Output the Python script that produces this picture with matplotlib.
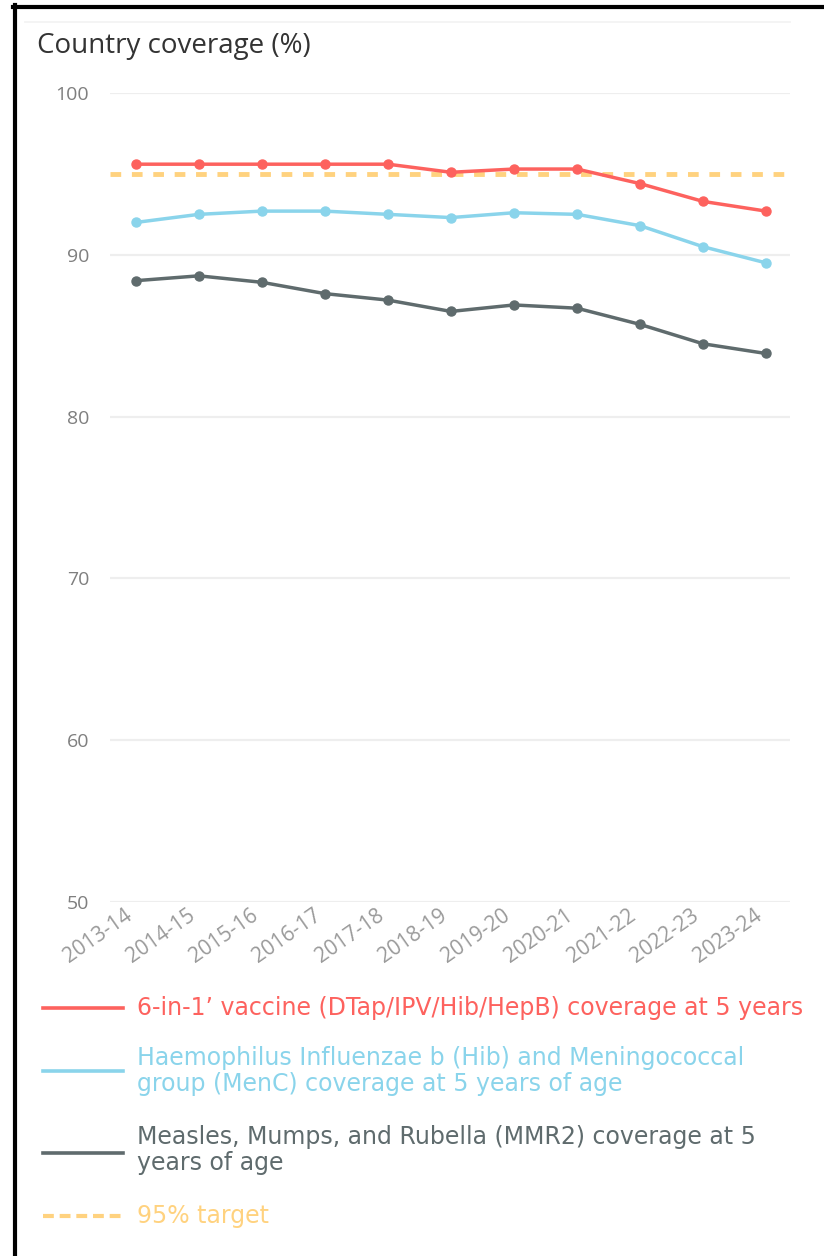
import numpy as np
import matplotlib
matplotlib.use('Agg')
import matplotlib.pyplot as plt
from matplotlib.lines import Line2D

years = ['2013-14', '2014-15', '2015-16', '2016-17', '2017-18', '2018-19',
         '2019-20', '2020-21', '2021-22', '2022-23', '2023-24']
six_in_one = [95.6, 95.6, 95.6, 95.6, 95.6, 95.1, 95.3, 95.3, 94.4, 93.3, 92.7]
hib_menc = [92.0, 92.5, 92.7, 92.7, 92.5, 92.3, 92.6, 92.5, 91.8, 90.5, 89.5]
mmr2 = [88.4, 88.7, 88.3, 87.6, 87.2, 86.5, 86.9, 86.7, 85.7, 84.5, 83.9]
target = 95
yticks = [50, 60, 70, 80, 90, 100]

labels = ["6-in-1’ vaccine (DTap/IPV/Hib/HepB) coverage at 5 years",
          "Haemophilus Influenzae b (Hib) and Meningococcal\ngroup (MenC) coverage at 5 years of age",
          "Measles, Mumps, and Rubella (MMR2) coverage at 5\nyears of age",
          "95% target"]

RED = '#FD625E'
BLUE = '#8AD4EB'
GREY = '#5F6B6D'
GOLD = '#FFD27F'

W, H = 824, 1256
fig = plt.figure(figsize=(W/100, H/100), dpi=100)
ax = fig.add_axes([110/W, 1-902/H, 680/W, (902-93)/H])

x = np.arange(len(years))
for vals, col in [(mmr2, GREY), (hib_menc, BLUE), (six_in_one, RED)]:
    ax.plot(x, vals, color=col, lw=2.5, marker='o', ms=6.5, zorder=3)
ax.axhline(target, color=GOLD, lw=3.5, ls=(0, (2.2, 2.2)), zorder=2)

ax.set_ylim(50, 100)
ax.set_xlim(-0.41, 10.38)
ax.set_yticks(yticks)
ax.set_yticklabels([str(t) for t in yticks], fontsize=14, color='#7f7f7f',
                   family='Open Sans')
ax.set_xticks(x)
ax.set_xticklabels(years, rotation=35, ha='right', va='top',
                   fontsize=15, color='#9a9a9a', family='Open Sans')
ax.tick_params(length=0)
ax.tick_params(axis='y', pad=15)
ax.tick_params(axis='x', pad=2)
ax.grid(axis='y', color='#eeeeee', lw=1.6)
ax.set_axisbelow(True)
for s in ax.spines.values():
    s.set_visible(False)

fig.text(37/W, 1-46/H, 'Country coverage (%)', fontsize=20, color='#333333',
         family='Open Sans', va='center')

# legend
leg_rows = [(1008, 1008, RED, '-'), (1071, 1071, BLUE, '-'),
            (1153, 1150, GREY, '-'), (1216, 1216, GOLD, '--')]
for (ly, ty, col, ls), lab in zip(leg_rows, labels):
    if ls == '-':
        fig.add_artist(Line2D([43/W, 123/W], [1-ly/H, 1-ly/H], color=col, lw=2.6,
                              transform=fig.transFigure))
    else:
        fig.add_artist(Line2D([43/W, 123/W], [1-ly/H, 1-ly/H], color=col, lw=3,
                              ls=(0, (2.6, 1.4)), transform=fig.transFigure))
    fig.text(137/W, 1-ty/H, lab, fontsize=17, color=col, family='DejaVu Sans',
             va='center', linespacing=1.1)

# frame
fig.add_artist(Line2D([13/W, 1], [1-7/H, 1-7/H], color='black', lw=3,
                      transform=fig.transFigure))
fig.add_artist(Line2D([15/W, 15/W], [0, 1-5/H], color='black', lw=3,
                      transform=fig.transFigure))
fig.add_artist(Line2D([25/W, 790/W], [1-22/H, 1-22/H], color='#f2f2f2', lw=1.2,
                      transform=fig.transFigure))

fig.savefig('out.png', dpi=100, facecolor='white')
